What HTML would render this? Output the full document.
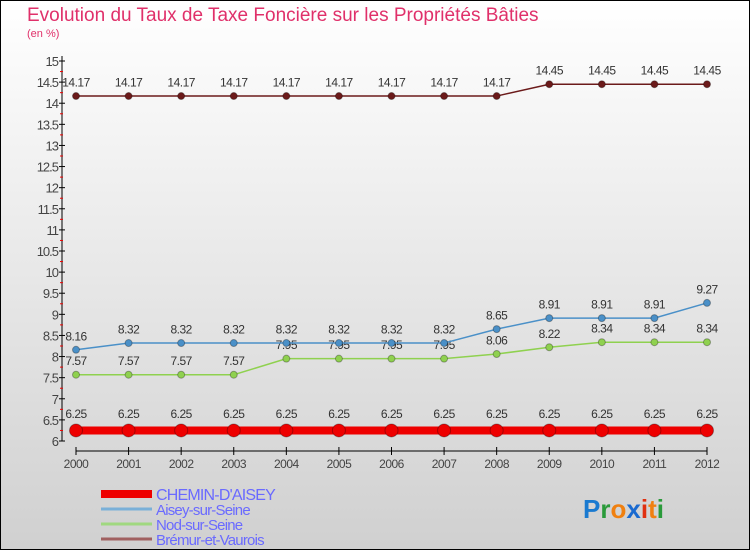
<!DOCTYPE html>
<html><head><meta charset="utf-8"><style>
body{margin:0;width:750px;height:550px;overflow:hidden;font-family:"Liberation Sans",sans-serif;}
#wrap{position:relative;width:748px;height:548px;border:1px solid #000;background:linear-gradient(#ffffff,#d0d0d0);}
.title{position:absolute;left:26px;top:4px;font-size:19px;color:#e0306a;}
.sub{position:absolute;left:26px;top:27px;font-size:11px;color:#e0306a;}
svg{position:absolute;left:0;top:0;}
</style></head><body>
<div id="wrap">
<div class="title">Evolution du Taux de Taxe Foncière sur les Propriétés Bâties</div>
<div class="sub">(en %)</div>
<svg id="chart" width="750" height="550"></svg>
</div>
<script>
const years=[2000,2001,2002,2003,2004,2005,2006,2007,2008,2009,2010,2011,2012];
const chemin=[6.25,6.25,6.25,6.25,6.25,6.25,6.25,6.25,6.25,6.25,6.25,6.25,6.25];
const aisey=[8.16,8.32,8.32,8.32,8.32,8.32,8.32,8.32,8.65,8.91,8.91,8.91,9.27];
const nod=[7.57,7.57,7.57,7.57,7.95,7.95,7.95,7.95,8.06,8.22,8.34,8.34,8.34];
const bremur=[14.17,14.17,14.17,14.17,14.17,14.17,14.17,14.17,14.17,14.45,14.45,14.45,14.45];
const yTicks=[6,6.5,7,7.5,8,8.5,9,9.5,10,10.5,11,11.5,12,12.5,13,13.5,14,14.5,15];
const legendNames=["CHEMIN-D'AISEY","Aisey-sur-Seine","Nod-sur-Seine","Brémur-et-Vaurois"];

const svg=document.getElementById('chart');const NS='http://www.w3.org/2000/svg';
function X(i){return 75+i*(706-75)/(years.length-1);}
function Y(v){return 440-(v-6)*(380/9);}
function mk(t,a,p){const e=document.createElementNS(NS,t);for(const k in a)e.setAttribute(k,a[k]);(p||svg).appendChild(e);return e;}
// axes
let ax=mk('line',{x1:61,y1:55,x2:61,y2:440,stroke:'#000'});


let xa=mk('line',{x1:75,y1:450,x2:706,y2:450,stroke:'#000'});


yTicks.forEach((v,i)=>{
  mk('line',{x1:58,y1:Y(v),x2:64,y2:Y(v),stroke:'#000'});
  if(i<yTicks.length-1)mk('line',{x1:59,y1:Y(v+0.25),x2:62,y2:Y(v+0.25),stroke:'#e00'});
  const t=mk('text',{x:57,y:Y(v)+5,'text-anchor':'end','font-size':13,fill:'#444','letter-spacing':'-1'});t.textContent=String(v);
  
  
});
years.forEach((yr,i)=>{
  mk('line',{x1:X(i),y1:446,x2:X(i),y2:454,stroke:'#000'});
  const t=mk('text',{x:X(i),y:467,'text-anchor':'middle','font-size':12,fill:'#444','letter-spacing':'-0.5'});t.textContent=yr;
  
  
});
function series(data,color,w,r,name){
  const g=mk('g',{});
  
  
  mk('polyline',{points:data.map((v,i)=>X(i)+','+Y(v)).join(' '),fill:'none',stroke:color,'stroke-width':w},g);
  data.forEach((v,i)=>{
    const c=mk('circle',{cx:X(i),cy:Y(v),r:r,fill:color,stroke:'rgba(0,0,0,0.3)','stroke-width':1},g);
    
    
    const t=mk('text',{x:X(i),y:Y(v)-(r+6),'text-anchor':'middle','font-size':12,fill:'#333','letter-spacing':'-0.5'},g);t.textContent=String(v);
    
    
  });
}
series(nod,'#8fd14f',1.5,3.5,'nod-sur-seine-series');
series(aisey,'#4a90c8',1.5,3.5,'aisey-sur-seine-series');
series(bremur,'#6b1a1a',1.5,3.5,'bremur-et-vaurois-series');
series(chemin,'#ee0000',8,6.5,'chemin-daisey-series');
const lc=['#ee0000','#7ab0d8','#a0d880','#a06060'],lw=[8,3,3,3],ly=[493,508,523,538];
legendNames.forEach((n,i)=>{
  const g=mk('g',{});
  
  
  mk('line',{x1:100,y1:ly[i],x2:151,y2:ly[i],stroke:lc[i],'stroke-width':lw[i]},g);
  const t=mk('text',{x:155,y:ly[i]+6,'font-size':i==0?16:15,fill:'#6a6aff','letter-spacing':'-0.8'},g);t.textContent=n;
});
// logo
const logo=mk('text',{x:582,y:517,'font-size':26,'font-weight':'bold'});


[['P','#1a7ad0'],['r','#2a9a3a'],['o','#f08010'],['x','#1a6ad0'],['i','#e03010'],['t','#f08010'],['i','#2a9a3a']].forEach(([c,f])=>{const s=mk('tspan',{fill:f},logo);s.textContent=c;});
</script>
</body></html>
